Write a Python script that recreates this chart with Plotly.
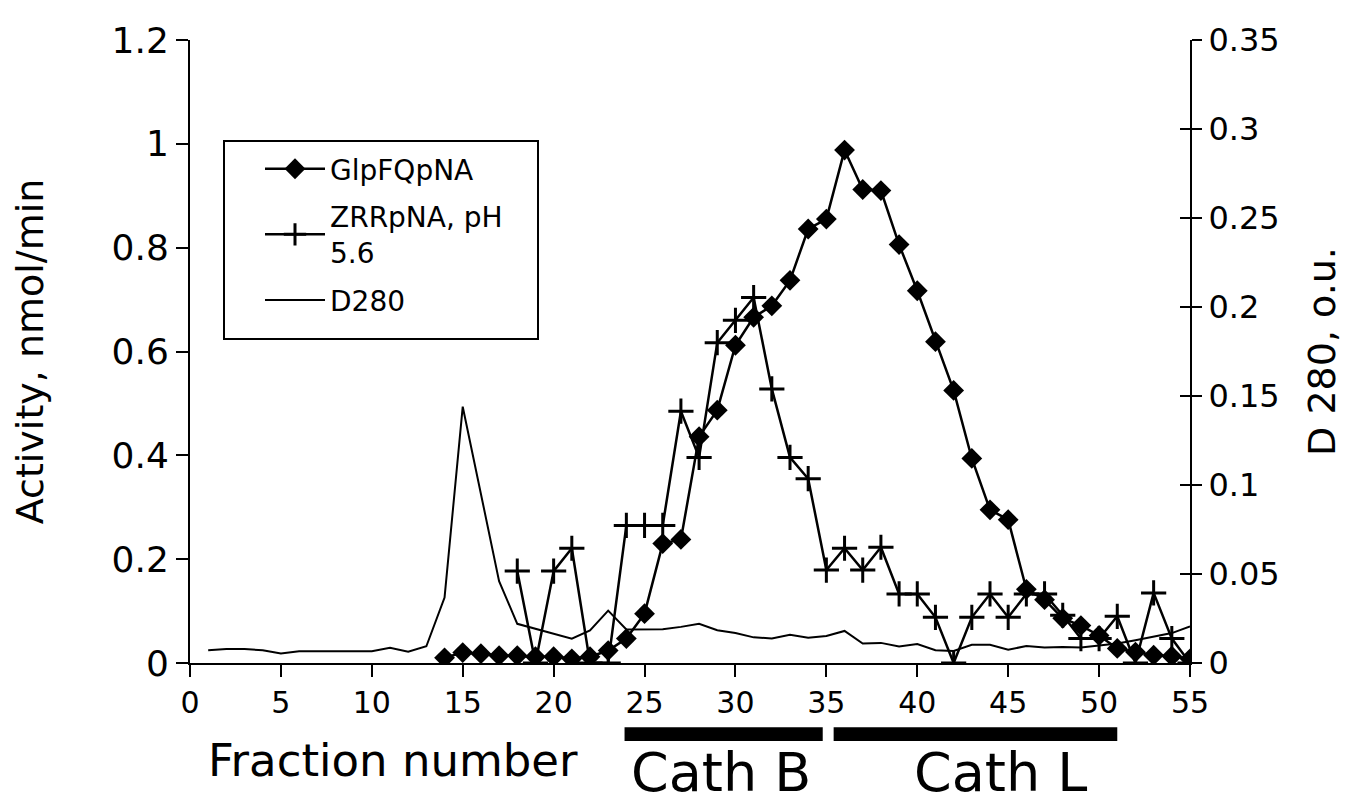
import plotly.graph_objects as go

# fraction numbers
fractions_glp = list(range(14, 56))
fractions_zrr = list(range(18, 56))
fractions_d280 = list(range(1, 56))

# activity, nmol/min
glp_activity = [0.010, 0.020, 0.018, 0.014, 0.014, 0.012, 0.012, 0.008, 0.012, 0.024,
                0.047, 0.095, 0.230, 0.238, 0.436, 0.487, 0.612, 0.666, 0.688, 0.737,
                0.836, 0.855, 0.988, 0.912, 0.910, 0.806, 0.717, 0.619, 0.525, 0.394,
                0.295, 0.276, 0.142, 0.122, 0.086, 0.072, 0.053, 0.028, 0.021, 0.015,
                0.013, 0.008]
zrr_activity = [0.177, 0.0, 0.177, 0.221, 0.0, 0.0, 0.265, 0.265, 0.265, 0.485,
                0.396, 0.617, 0.660, 0.704, 0.528, 0.396, 0.355, 0.179, 0.221, 0.179,
                0.223, 0.133, 0.133, 0.088, 0.0, 0.088, 0.133, 0.088, 0.133, 0.133,
                0.092, 0.047, 0.047, 0.090, 0.0, 0.135, 0.047, 0.0]

# D280, o.u.
d280 = [0.0072, 0.0078, 0.0078, 0.0072, 0.0054, 0.0066, 0.0066, 0.0066, 0.0066, 0.0066,
        0.0085, 0.0063, 0.0094, 0.0368, 0.1440, 0.0940, 0.0460, 0.0220, 0.0193, 0.0165,
        0.0137, 0.0183, 0.0294, 0.0188, 0.0190, 0.0190, 0.0203, 0.0220, 0.0184, 0.0168,
        0.0144, 0.0138, 0.0158, 0.0142, 0.0152, 0.0180, 0.0109, 0.0113, 0.0093, 0.0107,
        0.0072, 0.0068, 0.0102, 0.0102, 0.0074, 0.0096, 0.0087, 0.0090, 0.0087, 0.0096,
        0.0109, 0.0128, 0.0146, 0.0168, 0.0205]

# pooled fractions
pool_names = ["Cath B", "Cath L"]
pool_ranges = [(23.9, 34.8), (35.4, 51.0)]
pool_label_x = [29.2, 44.6]

fig = go.Figure()

fig.add_trace(go.Scatter(
    x=fractions_glp, y=glp_activity, name="GlpFQpNA", legendgroup="a",
    mode="lines+markers",
    line=dict(color="black", width=2.5),
    marker=dict(symbol="diamond", size=16, color="black"),
))
fig.add_trace(go.Scatter(
    x=fractions_zrr, y=zrr_activity, name="ZRRpNA, pH<br>5.6", legendgroup="b",
    mode="lines+markers",
    line=dict(color="black", width=2.5),
    marker=dict(symbol="cross-thin", size=18, line=dict(color="black", width=3)),
))
fig.add_trace(go.Scatter(
    x=fractions_d280, y=d280, name="D280", yaxis="y2", legendgroup="c",
    mode="lines",
    line=dict(color="black", width=2),
))
# helper trace so the inner half of the right-hand ticks is drawn
fig.add_trace(go.Scatter(x=[None], y=[None], yaxis="y3", showlegend=False,
                         hoverinfo="skip"))

for (x0, x1), name, lx in zip(pool_ranges, pool_names, pool_label_x):
    fig.add_shape(type="rect", xref="x", yref="paper", x0=x0, x1=x1,
                  y0=-0.125, y1=-0.103, fillcolor="black", line_width=0)
    fig.add_annotation(x=lx, xref="x", y=-0.175, yref="paper",
                       text=name, showarrow=False, xanchor="center", yanchor="middle",
                       font=dict(size=54, color="black"))

fig.add_annotation(x=0.203, xref="paper", y=-0.157, yref="paper",
                   text="Fraction number", showarrow=False,
                   xanchor="center", yanchor="middle",
                   font=dict(size=45, color="black"))

# legend frame
fig.add_shape(type="rect", xref="paper", yref="paper",
              x0=0.034, x1=0.348, y0=0.52, y1=0.838,
              line=dict(color="black", width=2), fillcolor="white", layer="below")

fig.update_layout(
    width=1354, height=808,
    margin=dict(l=182, r=172, t=24, b=153),
    paper_bgcolor="white", plot_bgcolor="white",
    font=dict(family="DejaVu Sans", color="black"),
    showlegend=True,
    legend=dict(
        x=0.07, y=0.833, xanchor="left", yanchor="top",
        borderwidth=0, bgcolor="rgba(0,0,0,0)",
        font=dict(size=28, color="black"),
        itemwidth=60,
        tracegroupgap=8,
    ),
    xaxis=dict(
        range=[0, 55], dtick=5, tick0=0,
        showgrid=False, zeroline=False,
        showline=True, linecolor="black", linewidth=2,
        ticks="outside", ticklen=12, tickwidth=2, tickcolor="black",
        tickfont=dict(family="DejaVu Sans", size=30, color="black"),
    ),
    yaxis=dict(
        range=[0, 1.2], dtick=0.2, tick0=0,
        showgrid=False, zeroline=False,
        showline=True, linecolor="black", linewidth=2,
        ticks="outside", ticklen=12, tickwidth=2, tickcolor="black",
        tickfont=dict(family="DejaVu Sans", size=36, color="black"),
        title=dict(text="Activity, nmol/min", font=dict(size=38, color="black"),
                   standoff=60),
    ),
    yaxis2=dict(
        range=[0, 0.35], dtick=0.05, tick0=0,
        overlaying="y", side="right", anchor="x",
        showgrid=False, zeroline=False,
        showline=True, linecolor="black", linewidth=2,
        ticks="outside", ticklen=10, tickwidth=2, tickcolor="black",
        tickfont=dict(family="DejaVu Sans", size=32, color="black"),
        title=dict(text="D 280, o.u.", font=dict(size=38, color="black"),
                   standoff=30),
    ),
    yaxis3=dict(
        range=[0, 0.35], dtick=0.05, tick0=0,
        overlaying="y", side="right", anchor="x",
        showgrid=False, zeroline=False, showline=False,
        ticks="inside", ticklen=10, tickwidth=2, tickcolor="black",
        showticklabels=False,
    ),
)

fig.write_html("out.html")
